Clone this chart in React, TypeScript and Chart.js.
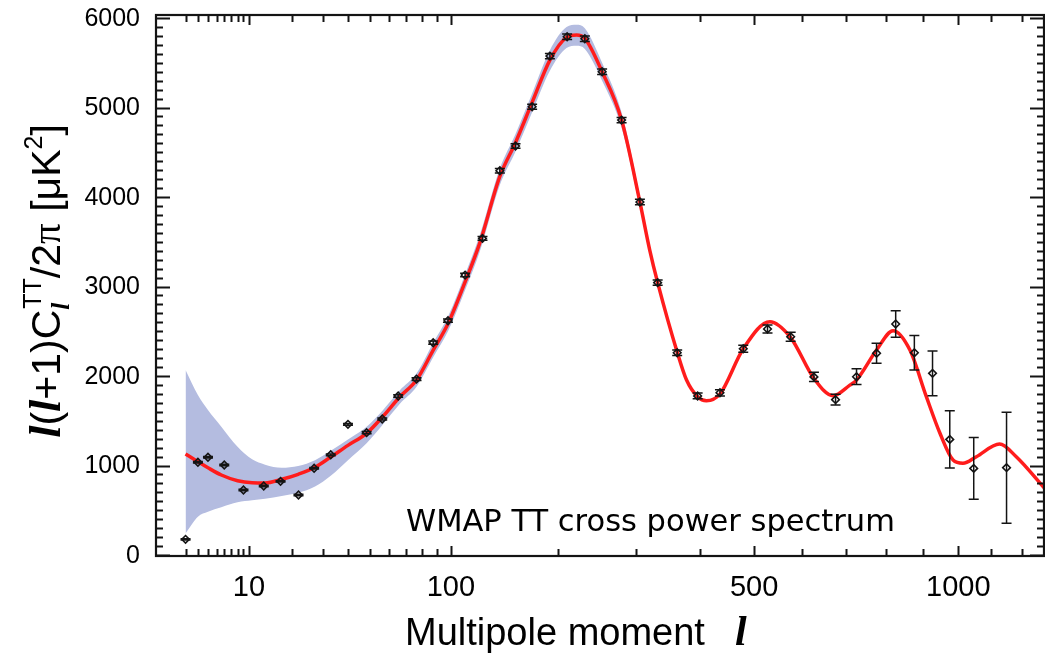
import React, { useEffect, useRef } from "react";
import { Chart, registerables, LinearScale } from "chart.js";

// ---------- data ----------
const obsL = [2, 3, 4, 6, 9, 13, 17, 22, 27, 33, 40, 48.5, 56.4, 65.2, 76.3, 87.3, 97.8, 110.9, 125.2, 140.5, 155.3, 171.9, 190.8, 210.3, 231.5, 253.4, 279.5, 305.5, 332, 362.7, 396.6, 435.7, 478.9, 526.5, 574.5, 625.3, 674.8, 725, 775, 824.6, 874.8, 925.4, 975, 1046.5, 1149.4];
const obsV = [175, 1036, 1092, 1006, 726, 771, 823, 670, 969, 1120, 1460, 1367, 1520, 1777, 1966, 2372, 2618, 3128, 3538, 4294, 4570, 5009, 5575, 5791, 5769, 5400, 4860, 3944, 3043, 2260, 1777, 1813, 2305, 2525, 2439, 1990, 1736, 1992, 2254, 2581, 2260, 2030, 1292, 968, 976];
const obsErr = [8, 8, 8, 8, 8, 8, 8, 8, 8, 10, 10, 12, 12, 15, 15, 18, 18, 20, 22, 25, 25, 28, 30, 30, 30, 30, 30, 30, 30, 30, 32, 35, 38, 45, 50, 52, 61, 88, 112, 149, 194, 250, 320, 346, 620];

const modelL = [2, 3, 4, 5.6, 8, 10.6, 13.3, 17.3, 21.9, 27.3, 33, 40, 48.5, 56.4, 66.2, 76.3, 87.3, 98, 110.6, 123, 140.5, 155.3, 172, 190.8, 209.6, 221.4, 231.5, 253.4, 279.5, 305.5, 320, 332, 363, 378, 396.6, 411.8, 435.7, 478.9, 531.2, 574.5, 625, 669, 708.8, 725, 775, 817.6, 862.7, 908, 946.6, 984.6, 1014, 1054.6, 1127, 1181, 1276];
const modelV = [1128, 1043, 975, 894, 830, 808, 806, 846, 902, 980, 1095, 1225, 1360, 1540, 1769, 1955, 2290, 2590, 3040, 3490, 4230, 4610, 5060, 5530, 5784, 5810, 5773, 5400, 4860, 3944, 3408, 3043, 2260, 1955, 1769, 1724, 1799, 2305, 2607, 2430, 1975, 1780, 1899, 1955, 2290, 2506, 2290, 1769, 1360, 1061, 1024, 1098, 1240, 1098, 745];

const bandL = [2, 3, 4, 5.6, 8, 10.6, 13.3, 17.3, 21.9, 27.3, 33, 40, 48.5, 56.4, 66.2, 76.3, 87.3, 98, 110.6, 123, 140.5, 155.3, 172, 190.8, 209.6, 221.4, 231.5, 253.4, 279.5, 305.5, 320, 332];
const bandHi = [2067, 1788, 1620, 1434, 1210, 1070, 1010, 975, 995, 1060, 1165, 1290, 1434, 1610, 1840, 2030, 2370, 2670, 3125, 3580, 4320, 4705, 5160, 5640, 5900, 5925, 5885, 5500, 4945, 4010, 3455, 3070];
const bandLo = [242, 428, 484, 535, 590, 612, 630, 660, 695, 765, 885, 1060, 1250, 1450, 1690, 1880, 2210, 2505, 2950, 3395, 4135, 4510, 4950, 5410, 5665, 5690, 5655, 5300, 4775, 3880, 3360, 3015];

const xLabelTicks = [10, 100, 500, 1000];
const xMinorTicks = [2, 3, 4, 5, 6, 7, 8, 9, 20, 30, 40, 50, 60, 70, 80, 90, 200, 300, 400, 600, 700, 800, 900, 1100, 1200];
const yLabelTicks = [0, 1000, 2000, 3000, 4000, 5000, 6000];

const annotation = "WMAP TT cross power spectrum";
const xTitle = "Multipole moment";

// ---------- custom l^0.4 scale ----------
const POW = 0.4;
class PowerScale extends LinearScale {
  static id = "power";
  static defaults = LinearScale.defaults;
  getPixelForValue(value: number) {
    const a = Math.pow(this.min, POW);
    const b = Math.pow(this.max, POW);
    return this.getPixelForDecimal((Math.pow(value, POW) - a) / (b - a));
  }
  getValueForPixel(pixel: number) {
    const a = Math.pow(this.min, POW);
    const b = Math.pow(this.max, POW);
    const d = this.getDecimalForPixel(pixel);
    return Math.pow(a + d * (b - a), 1 / POW);
  }
}

Chart.register(...registerables, PowerScale as any);

const RED = "rgb(255,28,28)";
const BAND = "#b4bce0";
const INK = "#141414";

const framePlugin = {
  id: "frameTicks",
  afterDraw(chart: any) {
    const { ctx, chartArea } = chart;
    const { left, right, top, bottom } = chartArea;
    const xs = chart.scales.x;
    const ys = chart.scales.y;
    ctx.save();
    ctx.strokeStyle = INK;
    ctx.lineWidth = 2;
    ctx.beginPath();
    const xt: [number, boolean][] = [
      ...xLabelTicks.map((v) => [v, true] as [number, boolean]),
      ...xMinorTicks.map((v) => [v, false] as [number, boolean]),
    ];
    xt.forEach(([v, major]) => {
      const px = Math.round(xs.getPixelForValue(v)) + 0.5;
      if (px < left || px > right) return;
      const len = major ? 10 : 7;
      ctx.moveTo(px, bottom);
      ctx.lineTo(px, bottom - len);
      ctx.moveTo(px, top);
      ctx.lineTo(px, top + len);
    });
    for (let v = 0; v <= 6000; v += 100) {
      const py = Math.round(ys.getPixelForValue(v)) + 0.5;
      const len = v % 1000 === 0 ? 14 : 7;
      ctx.moveTo(left, py);
      ctx.lineTo(left + len, py);
      ctx.moveTo(right, py);
      ctx.lineTo(right - len, py);
    }
    ctx.stroke();
    ctx.lineWidth = 2.2;
    ctx.strokeRect(left, top, right - left, bottom - top);

    // tick labels, placed through the scales
    ctx.fillStyle = "#000";
    ctx.font = '29px "Liberation Sans"';
    ctx.textAlign = "center";
    ctx.textBaseline = "alphabetic";
    xLabelTicks.forEach((v) => {
      ctx.fillText(String(v), xs.getPixelForValue(v), 596);
    });
    ctx.font = '25px "Liberation Sans"';
    ctx.textAlign = "right";
    ctx.textBaseline = "middle";
    yLabelTicks.forEach((v) => {
      ctx.fillText(String(v), 140, ys.getPixelForValue(v) + 1);
    });
    ctx.restore();
  },
};

const errorPlugin = {
  id: "errorBars",
  afterDatasetsDraw(chart: any) {
    const { ctx } = chart;
    const xs = chart.scales.x;
    const ys = chart.scales.y;
    ctx.save();
    ctx.strokeStyle = INK;
    ctx.lineWidth = 1.5;
    ctx.beginPath();
    obsL.forEach((l, i) => {
      const px = xs.getPixelForValue(l);
      const y1 = ys.getPixelForValue(obsV[i] - obsErr[i]);
      const y2 = ys.getPixelForValue(obsV[i] + obsErr[i]);
      ctx.moveTo(px, y1);
      ctx.lineTo(px, y2);
      ctx.moveTo(px - 5, y1);
      ctx.lineTo(px + 5, y1);
      ctx.moveTo(px - 5, y2);
      ctx.lineTo(px + 5, y2);
    });
    ctx.stroke();
    ctx.restore();
  },
};

const textPlugin = {
  id: "texts",
  afterDraw(chart: any) {
    const { ctx } = chart;
    ctx.save();
    ctx.fillStyle = "#000";
    ctx.textBaseline = "alphabetic";
    ctx.textAlign = "left";
    // annotation
    ctx.font = '30.5px "DejaVu Sans"';
    ctx.fillText(annotation, 406, 531);
    // x title
    ctx.font = '38px "Liberation Sans"';
    ctx.fillText(xTitle, 405, 645);
    ctx.font = 'italic bold 42px "Liberation Serif"';
    ctx.fillText("l", 735, 645);

    // y title (rotated)
    const F = 41;
    const sans = `${F}px "Liberation Sans"`;
    const lFont = `italic bold ${F + 3}px "Liberation Serif"`;
    const subFont = `italic bold ${Math.round(F * 0.62)}px "Liberation Serif"`;
    const supFont = `${Math.round(F * 0.6)}px "Liberation Sans"`;
    type Piece = { t: string; f: string; dy: number; stackWith?: { t: string; f: string; dy: number } };
    const pieces: Piece[] = [
      { t: "l", f: lFont, dy: 0 },
      { t: "(", f: sans, dy: 0 },
      { t: "l", f: lFont, dy: 0 },
      { t: "+1)C", f: sans, dy: 0 },
      { t: "l", f: subFont, dy: 9, stackWith: { t: "TT", f: supFont, dy: -19 } },
      { t: "/2", f: sans, dy: 0 },
      { t: "\u03c0", f: `${F}px "Liberation Serif"`, dy: 0 },
      { t: " [\u03bcK", f: sans, dy: 0 },
      { t: "2", f: supFont, dy: -18 },
      { t: "]", f: sans, dy: 0 },
    ];
    const widthOf = (p: Piece) => {
      ctx.font = p.f;
      let w = ctx.measureText(p.t).width;
      if (p.stackWith) {
        ctx.font = p.stackWith.f;
        w = Math.max(w, ctx.measureText(p.stackWith.t).width + 1);
      }
      return w;
    };
    const total = pieces.reduce((s, p) => s + widthOf(p), 0);
    ctx.translate(60, 281);
    ctx.rotate(-Math.PI / 2);
    let cx = -total / 2;
    pieces.forEach((p) => {
      const w = widthOf(p);
      ctx.font = p.f;
      ctx.fillText(p.t, cx, p.dy);
      if (p.stackWith) {
        ctx.font = p.stackWith.f;
        ctx.fillText(p.stackWith.t, cx + 1, p.stackWith.dy);
      }
      cx += w;
    });
    ctx.restore();
  },
};

export default function App() {
  const ref = useRef<HTMLCanvasElement | null>(null);
  useEffect(() => {
    if (!ref.current) return;
    const chart = new Chart(ref.current, {
      type: "line",
      data: {
        datasets: [
          {
            label: "band upper",
            data: bandL.map((l, i) => ({ x: l, y: bandHi[i] })),
            fill: "+1",
            backgroundColor: BAND,
            borderWidth: 0,
            pointRadius: 0,
            pointHoverRadius: 0,
            cubicInterpolationMode: "monotone",
            order: 3,
          },
          {
            label: "band lower",
            data: bandL.map((l, i) => ({ x: l, y: bandLo[i] })),
            fill: false,
            borderWidth: 0,
            pointRadius: 0,
            pointHoverRadius: 0,
            cubicInterpolationMode: "monotone",
            order: 3,
          },
          {
            label: "model",
            data: modelL.map((l, i) => ({ x: l, y: modelV[i] })),
            fill: false,
            borderColor: RED,
            borderWidth: 3.5,
            pointRadius: 0,
            pointHoverRadius: 0,
            cubicInterpolationMode: "monotone",
            order: 2,
          },
          {
            label: "WMAP",
            data: obsL.map((l, i) => ({ x: l, y: obsV[i] })),
            showLine: false,
            pointStyle: "rectRot",
            pointRadius: 3.8,
            borderColor: INK,
            backgroundColor: "rgba(255,255,255,0)",
            pointBorderWidth: 1.6,
            order: 1,
          },
        ] as any,
      },
      options: {
        animation: false,
        responsive: false,
        devicePixelRatio: 1,
        events: [],
        layout: { autoPadding: false, padding: { left: 0, right: 1, top: 15, bottom: 0 } },
        plugins: { legend: { display: false }, tooltip: { enabled: false } },
        scales: {
          x: {
            type: "power" as any,
            position: "bottom",
            min: 0.51,
            max: 1274,
            bounds: "data",
            grid: { display: false, drawTicks: false },
            border: { display: false },
            ticks: { display: false, autoSkip: false, maxRotation: 0 },
            afterBuildTicks: (s: any) => {
              s.ticks = xLabelTicks.map((v) => ({ value: v }));
            },
            afterFit: (s: any) => {
              s.height = 103;
            },
          } as any,
          y: {
            type: "linear",
            min: -11,
            max: 6034,
            bounds: "data",
            grid: { display: false, drawTicks: false },
            border: { display: false },
            ticks: { display: false, autoSkip: false },
            afterBuildTicks: (s: any) => {
              s.ticks = yLabelTicks.map((v) => ({ value: v }));
            },
            afterFit: (s: any) => {
              s.width = 156;
            },
          } as any,
        },
      },
      plugins: [errorPlugin, framePlugin, textPlugin],
    });
    return () => chart.destroy();
  }, []);
  return (
    <div style={{ position: "absolute", left: 0, top: 0, width: 1045, height: 659, background: "#fff" }}>
      <canvas ref={ref} width={1045} height={659} style={{ display: "block" }} />
    </div>
  );
}
